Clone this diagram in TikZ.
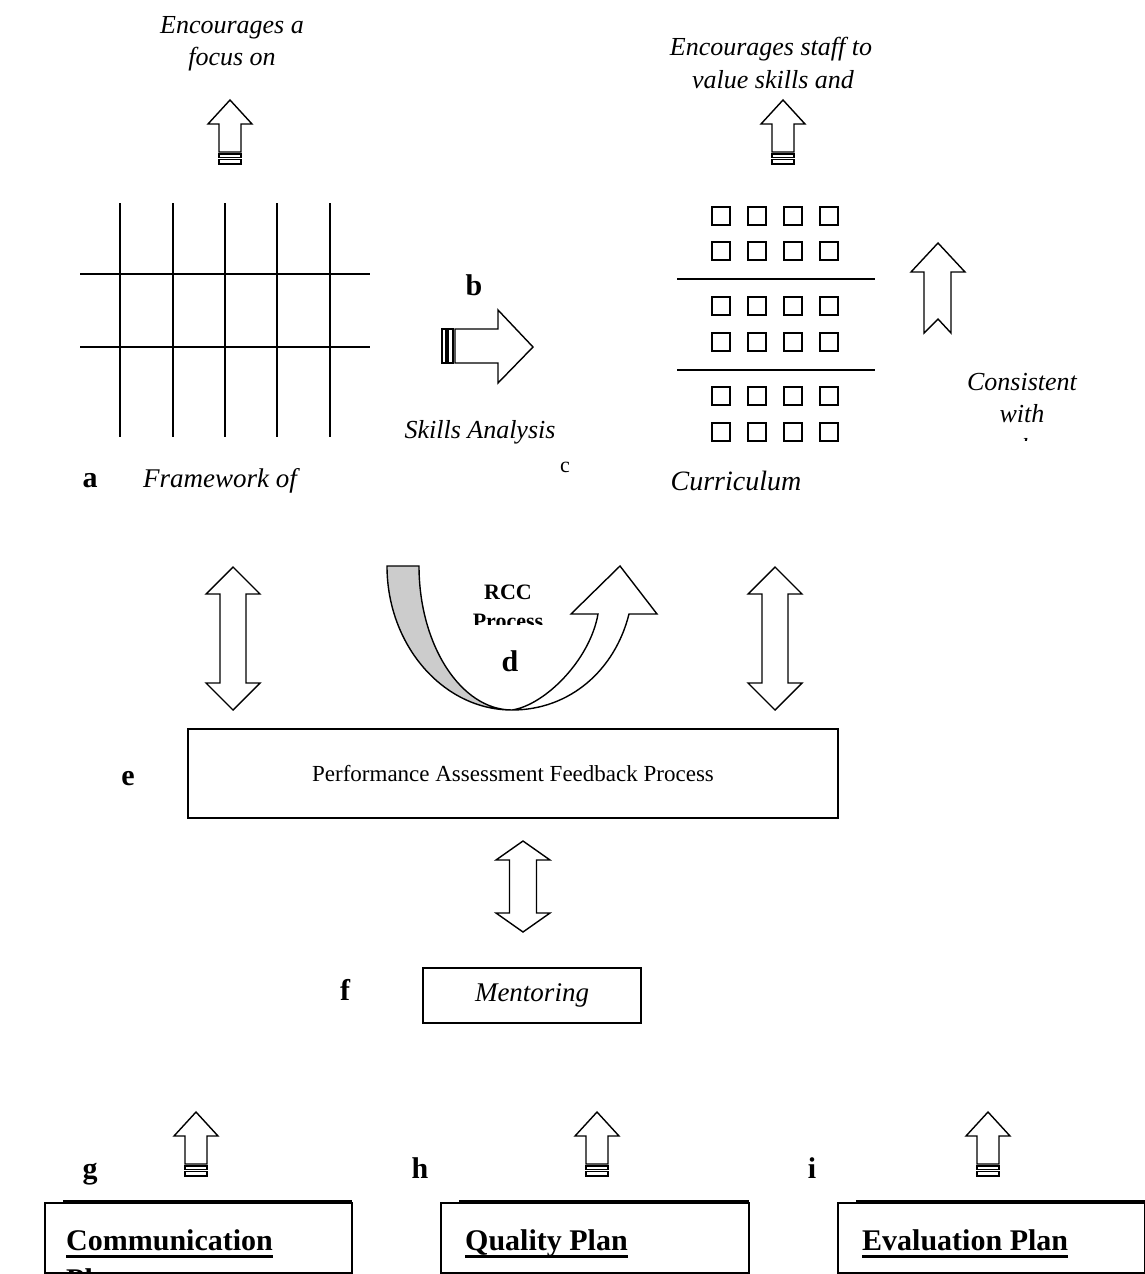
\documentclass[tikz,border=0pt]{standalone}
\usepackage{fontspec}
\setmainfont{Liberation Serif}
\newcommand\twoheadarrow[6]{% x, top tip, bottom tip, head length, head half width, shaft half width
  \draw[blk] (#1,#2) -- ({#1+#5},{#2+#4}) -- ({#1+#6},{#2+#4}) -- ({#1+#6},{#3-#4})
    -- ({#1+#5},{#3-#4}) -- (#1,#3) -- ({#1-#5},{#3-#4}) -- ({#1-#6},{#3-#4})
    -- ({#1-#6},{#2+#4}) -- ({#1-#5},{#2+#4}) -- cycle;}
\tikzset{
  blk/.style={draw, line width=1.4pt, fill=white, line join=miter},
  ln/.style={line width=1.4pt},
  ital/.style={font=\fontsize{26}{33}\selectfont\itshape, inner sep=0pt, anchor=base},
  lett/.style={font=\fontsize{30}{30}\selectfont\bfseries, inner sep=0pt, anchor=base},
  plantext/.style={font=\fontsize{30}{33}\selectfont\bfseries, inner sep=0pt, anchor=base west},
  planline/.style={line width=3pt},
  stripedup/.pic={
    \draw[blk] (0,0) -- (22,24) -- (11,24) -- (11,52) -- (-11,52) -- (-11,24) -- (-22,24) -- cycle;
    \draw[blk] (-11,54) rectangle (11,57.5);
    \draw[blk] (-11,59.5) rectangle (11,64);
  }
}
\begin{document}
\begin{tikzpicture}[x=1pt, y=-1pt]
\useasboundingbox (0,0) rectangle (1145,1274);

% ---- framework of skills (a) ----
\node[ital] (enc1a) at (232,33) {Encourages a};
\node[ital] (enc1b) at (232,65) {focus on};
\pic at (230,100) {stripedup};
\foreach \gx in {120,173,225,277,330}
  \draw[ln] (\gx,203) -- (\gx,437);
\draw[ln] (80,274) -- (370,274);
\draw[ln] (80,347) -- (370,347);
\node[lett] (la) at (90,487) {a};
\node[ital, font=\fontsize{27}{33}\selectfont\itshape] (frame) at (220,487) {Framework of};

% ---- skills analysis (b) ----
\node[lett] (lb) at (474,295) {b};
\draw[blk] (533,347) -- (498,310) -- (498,329) -- (455,329) -- (455,363) -- (498,363) -- (498,383) -- cycle;
\draw[blk] (448,329) rectangle (453,363);
\draw[blk] (442,329) rectangle (446,363);
\node[ital] (skills) at (480,438) {Skills Analysis};

% ---- curriculum (c) ----
\node[ital] (enc2a) at (771,55) {Encourages staff to};
\node[ital] (enc2b) at (773,88) {value skills and};
\pic at (783,100) {stripedup};
\foreach \sy in {207,242,297,333,387,423}
  \foreach \sx in {712,748,784,820}
    \draw[ln] (\sx,\sy) rectangle ++(18,18);
\draw[ln] (677,279) -- (875,279);
\draw[ln] (677,370) -- (875,370);
\draw[blk] (938,243) -- (965,272) -- (951,272) -- (951,333) -- (938,319) -- (924,333) -- (924,272) -- (911,272) -- cycle;
\node[ital] (cons1) at (1022,390) {Consistent};
\node[ital] (cons2) at (1022,422) {with};
\begin{scope}
  \clip (960,425) rectangle (1100,440);
  \node[ital] (cons3) at (1030,456) {the};
\end{scope}
\node[font=\fontsize{22}{22}\selectfont, inner sep=0pt, anchor=base] (lc) at (565,472) {c};
\node[ital, font=\fontsize{28}{33}\selectfont\itshape] (curr) at (736,490) {Curriculum};

% ---- links to the assessment process ----
\twoheadarrow{233}{567}{710}{27}{27}{13}
\twoheadarrow{775}{567}{710}{27}{27}{13}

% ---- RCC process (d) ----
\draw[line width=1.4pt, fill=black!20] (387,566) -- (419,566)
  .. controls (419,645) and (461,710) .. (512,710)
  .. controls (443,710) and (387,645) .. (387,566) -- cycle;
\draw[blk] (512,710) .. controls (570,710) and (615,670) .. (629,614)
  -- (657,614) -- (620,566) -- (571,614) -- (598,614)
  .. controls (590,660) and (545,705) .. (512,710) -- cycle;
\node[font=\fontsize{22}{22}\selectfont\bfseries, inner sep=0pt, anchor=base] (rcc) at (508,599) {RCC};
\begin{scope}
  \clip (440,600) rectangle (580,624);
  \node[font=\fontsize{22}{22}\selectfont\bfseries, inner sep=0pt, anchor=base] (proc) at (508,628) {Process};
\end{scope}
\node[lett] (ld) at (510,671) {d};

% ---- performance assessment feedback (e) ----
\node[lett] (le) at (128,785) {e};
\node[draw, line width=1.4pt, minimum width=650pt, minimum height=89pt,
  font=\fontsize{23}{23}\selectfont] (pafp) at (513,773.5) {Performance Assessment Feedback Process};
\twoheadarrow{523}{841}{932}{19}{27}{13.5}

% ---- mentoring (f) ----
\node[lett] (lf) at (345,1000) {f};
\node[draw, line width=1.4pt, minimum width=218pt, minimum height=55pt,
  font=\fontsize{27}{27}\selectfont\itshape] (ment) at (532,995.5) {Mentoring};

% ---- plans (g, h, i) ----
\node[lett] (lg) at (90,1178) {g};
\node[lett] (lh) at (420,1178) {h};
\node[lett] (li) at (812,1178) {i};
\pic at (196,1112) {stripedup};
\pic at (597,1112) {stripedup};
\pic at (988,1112) {stripedup};

\draw[ln] (45,1203) rectangle (352,1273);
\draw[ln] (63,1201) -- (352,1201);
\draw[ln] (441,1203) rectangle (749,1273);
\draw[ln] (459,1201) -- (749,1201);
\draw[ln] (838,1203) rectangle (1145,1273);
\draw[ln] (856,1201) -- (1145,1201);

\node[plantext] (comm) at (66,1250) {Communication};
\draw[planline] ([yshift=-6pt]comm.base west) -- ([yshift=-6pt]comm.base east);
\begin{scope}
  \clip (45,1203) rectangle (352,1272);
  \node[plantext] (comm2) at (66,1289) {Plan};
\end{scope}
\node[plantext] (qual) at (465,1250) {Quality Plan};
\draw[planline] ([yshift=-6pt]qual.base west) -- ([yshift=-6pt]qual.base east);
\node[plantext] (eval) at (862,1250) {Evaluation Plan};
\draw[planline] ([yshift=-6pt]eval.base west) -- ([yshift=-6pt]eval.base east);
\end{tikzpicture}
\end{document}
